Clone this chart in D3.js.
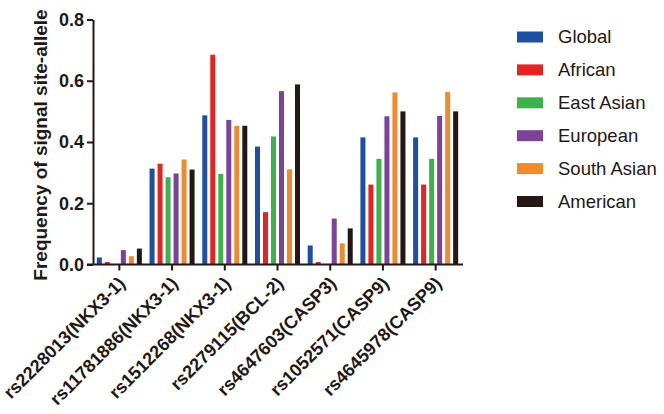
<!DOCTYPE html>
<html>
<head>
<meta charset="utf-8">
<script src="https://cdn.jsdelivr.net/npm/d3@7"></script>
<style>
  body { margin: 0; background: #fff; }
  svg { display: block; font-family: "Liberation Sans", Arial, sans-serif; }
</style>
</head>
<body>
<svg id="chart"></svg>
<script>
const snps = ['rs2228013(NKX3-1)', 'rs11781886(NKX3-1)', 'rs1512268(NKX3-1)', 'rs2279115(BCL-2)',
              'rs4647603(CASP3)', 'rs1052571(CASP9)', 'rs4645978(CASP9)'];
const populations = ['Global', 'African', 'East Asian', 'European', 'South Asian', 'American'];
const colors = ['#1d4fa3', '#e52421', '#3bb34a', '#7d4199', '#f08a2a', '#231815'];

const global_freq     = [0.023, 0.313, 0.487, 0.385, 0.062, 0.415, 0.415];
const african_freq    = [0.008, 0.329, 0.685, 0.171, 0.008, 0.261, 0.261];
const eastasian_freq  = [0.000, 0.285, 0.296, 0.418, 0.000, 0.345, 0.345];
const european_freq   = [0.047, 0.297, 0.472, 0.566, 0.150, 0.484, 0.485];
const southasian_freq = [0.027, 0.343, 0.453, 0.311, 0.069, 0.562, 0.563];
const american_freq   = [0.052, 0.310, 0.453, 0.588, 0.118, 0.500, 0.500];
const series = [global_freq, african_freq, eastasian_freq, european_freq, southasian_freq, american_freq];

const yticks = [0, 0.2, 0.4, 0.6, 0.8];

const width = 664, height = 414;
const plot = { left: 93, right: 462, top: 19.5, bottom: 264.5 };
const ink = '#231815';

const svg = d3.select('#chart')
    .attr('width', width)
    .attr('height', height);

const xscale = d3.scaleBand()
    .domain(snps)
    .range([plot.left, plot.right])
    .padding(0);

const inner = d3.scaleBand()
    .domain(populations)
    .range([0, xscale.bandwidth()])
    .paddingInner(0.375)
    .paddingOuter(0.48);

const yscale = d3.scaleLinear()
    .domain([0, 0.8])
    .range([plot.bottom, plot.top]);

const color = d3.scaleOrdinal().domain(populations).range(colors);

// bars
const rows = [];
snps.forEach((s, i) => {
    populations.forEach((p, j) => {
        rows.push({ snp: s, pop: p, value: series[j][i] });
    });
});

svg.append('g')
    .selectAll('rect')
    .data(rows)
    .join('rect')
    .attr('x', d => xscale(d.snp) + inner(d.pop))
    .attr('width', inner.bandwidth())
    .attr('y', d => yscale(d.value))
    .attr('height', d => yscale(0) - yscale(d.value))
    .attr('fill', d => color(d.pop));

// y axis
const yaxis = d3.axisLeft(yscale)
    .tickValues(yticks)
    .tickFormat(d3.format('.1f'))
    .tickSize(6)
    .tickPadding(3)
    .tickSizeOuter(0);

const yg = svg.append('g')
    .attr('transform', `translate(${plot.left}, 0)`)
    .call(yaxis);
yg.select('.domain').attr('stroke', ink).attr('stroke-width', 2);
yg.selectAll('.tick line').attr('stroke', ink).attr('stroke-width', 2);
yg.selectAll('.tick text')
    .attr('fill', ink)
    .style('font-size', '18px')
    .style('font-weight', 'bold');

// x axis
const xaxis = d3.axisBottom(xscale)
    .tickSize(6)
    .tickSizeOuter(0)
    .tickFormat('');

const xg = svg.append('g')
    .attr('transform', `translate(0, ${plot.bottom})`)
    .call(xaxis);
xg.select('.domain')
    .attr('d', `M${plot.left - 6},0H${plot.right + 1}`)
    .attr('stroke', ink).attr('stroke-width', 2);
xg.selectAll('.tick line').attr('stroke', ink).attr('stroke-width', 2);

svg.append('g')
    .selectAll('text')
    .data(snps)
    .join('text')
    .attr('transform', d => `translate(${xscale(d) + xscale.bandwidth() / 2 + 7}, ${plot.bottom + 20}) rotate(-45)`)
    .attr('text-anchor', 'end')
    .attr('fill', ink)
    .style('font-size', '18px')
    .style('font-weight', 'bold')
    .text(d => d);

// y label
svg.append('text')
    .attr('transform', 'rotate(-90)')
    .attr('x', -145)
    .attr('y', 47)
    .attr('text-anchor', 'middle')
    .attr('fill', ink)
    .style('font-size', '19px')
    .style('font-weight', 'bold')
    .text('Frequency of signal site-allele');

// legend
const legend = svg.append('g')
    .selectAll('g')
    .data(populations)
    .join('g')
    .attr('transform', (d, i) => `translate(517, ${37 + i * 32.9})`);

legend.append('rect')
    .attr('x', 0)
    .attr('y', -5.5)
    .attr('width', 26)
    .attr('height', 11)
    .attr('fill', d => color(d));

legend.append('text')
    .attr('x', 41)
    .attr('y', 0)
    .attr('dy', '0.35em')
    .attr('fill', ink)
    .style('font-size', '18.5px')
    .text(d => d);
</script>
</body>
</html>
